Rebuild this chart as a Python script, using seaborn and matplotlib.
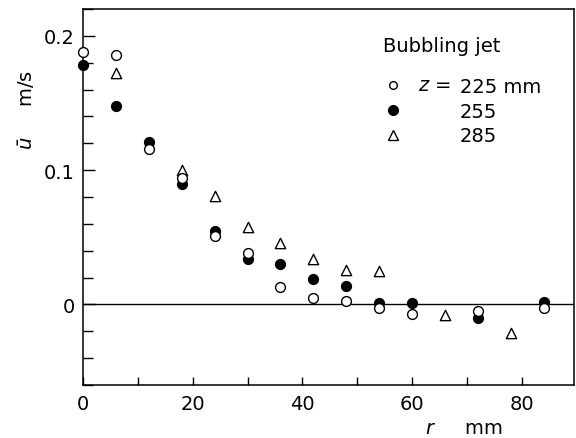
import matplotlib
matplotlib.use("Agg")
import matplotlib.pyplot as plt
from matplotlib.ticker import MultipleLocator, FuncFormatter
from matplotlib.lines import Line2D
import seaborn as sns
import pandas as pd

# Radial distance r (mm) and mean axial velocity u (m/s) at three heights z
r_225 = [0, 6, 12, 18, 24, 30, 36, 42, 48, 54, 60, 72, 84]
u_225 = [0.188, 0.186, 0.116, 0.094, 0.051, 0.038, 0.013, 0.005, 0.0025,
         -0.003, -0.007, -0.005, -0.003]

r_255 = [0, 6, 12, 18, 24, 30, 36, 42, 48, 54, 60, 72, 84]
u_255 = [0.178, 0.148, 0.121, 0.090, 0.055, 0.034, 0.030, 0.019, 0.014,
         0.001, 0.001, -0.010, 0.002]

r_285 = [6, 18, 24, 30, 36, 42, 48, 54, 66, 78]
u_285 = [0.172, 0.100, 0.081, 0.058, 0.046, 0.034, 0.026, 0.025,
         -0.008, -0.021]

legend_title = "Bubbling jet"
legend_prefix = "$z$ ="
legend_labels = ["225 mm", "255", "285"]

sns.set_style("ticks", rc={"text.color": "black", "axes.labelcolor": "black",
                           "xtick.color": "black", "ytick.color": "black",
                           "axes.edgecolor": "black"})
plt.rcParams["font.family"] = ["DejaVu Sans"]
plt.rcParams["mathtext.fontset"] = "dejavusans"

fig = plt.figure(figsize=(5.76, 4.39), dpi=100)
ax = fig.add_axes([83 / 576, 1 - 386 / 439, 491 / 576, 376 / 439])

df225 = pd.DataFrame({"r": r_225, "u": u_225})
df255 = pd.DataFrame({"r": r_255, "u": u_255})
df285 = pd.DataFrame({"r": r_285, "u": u_285})

ax.axhline(0, color="black", lw=1.0, zorder=1)

common = dict(ax=ax, x="r", y="u", edgecolor="black", linewidth=1.0,
              zorder=3, clip_on=False, legend=False)
sns.scatterplot(data=df285, marker="^", s=55, facecolor="white", **common)
sns.scatterplot(data=df255, marker="o", s=50, facecolor="black", **common)
sns.scatterplot(data=df225, marker="o", s=50, facecolor="white", **common)

ax.set_xlim(0, 89.5)
ax.set_ylim(-0.06, 0.22)

ax.xaxis.set_major_locator(MultipleLocator(20))
ax.xaxis.set_minor_locator(MultipleLocator(10))
ax.yaxis.set_major_locator(MultipleLocator(0.1))
ax.yaxis.set_minor_locator(MultipleLocator(0.02))
ax.yaxis.set_major_formatter(FuncFormatter(
    lambda v, p: "0" if abs(v) < 1e-9 else f"{v:.1f}"))

ax.tick_params(axis="both", which="both", direction="in", color="black",
               width=1.0, top=False, right=False)
ax.tick_params(axis="x", which="both", length=6, pad=6.5, labelsize=14)
ax.tick_params(axis="y", which="major", length=8.5, pad=6, labelsize=14)
ax.tick_params(axis="y", which="minor", length=7.5)

for side in ["left", "right", "top", "bottom"]:
    ax.spines[side].set_visible(True)
    ax.spines[side].set_linewidth(1.1)
    ax.spines[side].set_color("black")

ax.set_xlabel("$r$     mm", fontsize=14)
ax.xaxis.set_label_coords(0.775, -0.088)
ax.set_ylabel("$\\bar{u}$     m/s", fontsize=14)
ax.yaxis.set_label_coords(-0.094, 0.734)

handles = [
    Line2D([], [], ls="none", marker="o", ms=5.5, mfc="white",
           mec="black", mew=1.0),
    Line2D([], [], ls="none", marker="o", ms=7, mfc="black",
           mec="black", mew=1.0),
    Line2D([], [], ls="none", marker="^", ms=7, mfc="white",
           mec="black", mew=1.0),
]
ax.legend(handles, legend_labels, loc="upper left",
          bbox_to_anchor=(0.6116, 0.82), frameon=False, fontsize=14,
          handlelength=1.0, handletextpad=2.95, labelspacing=0.3,
          borderpad=0, borderaxespad=0)
ax.text(0.611, 0.904, legend_title, transform=ax.transAxes, fontsize=14,
        ha="left", va="center")
ax.text(0.750, 0.798, legend_prefix, transform=ax.transAxes, fontsize=14,
        ha="right", va="center")

fig.savefig("out.png", dpi=100)
